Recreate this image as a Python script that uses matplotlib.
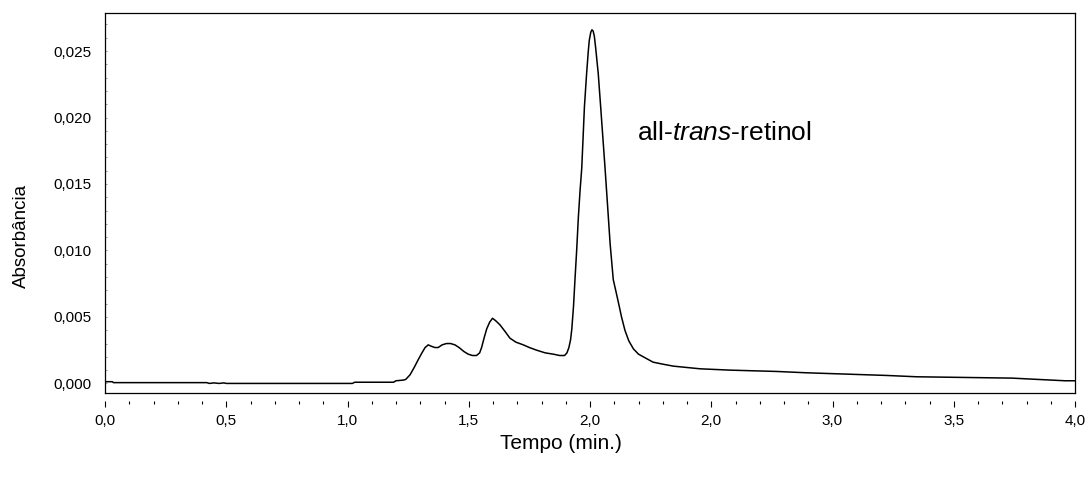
import matplotlib
matplotlib.use("Agg")
import matplotlib.pyplot as plt
from matplotlib.ticker import FixedLocator, MultipleLocator
import numpy as np

plt.rcParams['font.family'] = ['Liberation Sans', 'DejaVu Sans']
plt.rcParams['mathtext.fontset'] = 'custom'
plt.rcParams['mathtext.rm'] = 'Liberation Sans'
plt.rcParams['mathtext.it'] = 'Liberation Sans:italic'

# chromatogram trace (time in min, absorbance)
tempo = [0.00, 0.03, 0.035, 0.42, 0.43, 0.45, 0.47, 0.49, 0.50, 1.02, 1.03, 1.19,
         1.20, 1.23, 1.24, 1.258, 1.275, 1.292, 1.307, 1.320, 1.333, 1.345, 1.36,
         1.374, 1.39, 1.408, 1.425, 1.443, 1.46, 1.48, 1.498, 1.515, 1.532, 1.545,
         1.553, 1.563, 1.574, 1.586, 1.598, 1.612, 1.629, 1.650, 1.670, 1.695, 1.725,
         1.750, 1.780, 1.815, 1.849, 1.875, 1.895, 1.905, 1.913, 1.920, 1.925, 1.932,
         1.938, 1.945, 1.952, 1.959, 1.966, 1.972, 1.977, 1.986, 1.993, 1.997, 2.003,
         2.008, 2.013, 2.018, 2.023, 2.034, 2.044, 2.053, 2.062, 2.072, 2.083, 2.096,
         2.106, 2.117, 2.130, 2.144, 2.160, 2.179, 2.20, 2.23, 2.26, 2.30, 2.344,
         2.454, 2.577, 2.770, 2.893, 3.223, 3.347, 3.739, 3.848, 3.959, 4.0]
absorbancia = [0.00013, 0.00013, 0.00006, 0.00006, 0.0, 0.00004, 0.0, 0.00004, 0.0,
               0.0, 0.00009, 0.00009, 0.0002, 0.00025, 0.0003, 0.00065, 0.0012, 0.0018,
               0.0023, 0.0027, 0.0029, 0.0028, 0.0027, 0.0027, 0.0029, 0.0030, 0.0030,
               0.0029, 0.0027, 0.0024, 0.0022, 0.0021, 0.0021, 0.0023, 0.0027, 0.0034,
               0.0041, 0.0046, 0.0049, 0.0047, 0.0044, 0.0039, 0.0034, 0.0031, 0.0029,
               0.0027, 0.0025, 0.0023, 0.0022, 0.0021, 0.0021, 0.0023, 0.0027, 0.0033,
               0.0041, 0.0058, 0.0078, 0.0100, 0.0125, 0.0145, 0.0162, 0.0187, 0.0208,
               0.0233, 0.0250, 0.0258, 0.0264, 0.0266, 0.0265, 0.0261, 0.0253, 0.0233,
               0.0208, 0.0185, 0.0162, 0.0135, 0.0105, 0.0078, 0.0070, 0.0061, 0.0050,
               0.0040, 0.0032, 0.0026, 0.0022, 0.0019, 0.0016, 0.00145, 0.0013, 0.0011,
               0.0010, 0.0009, 0.0008, 0.0006, 0.0005, 0.0004, 0.0003, 0.0002, 0.0002]

x_ticks = [0.0, 0.5, 1.0, 1.5, 2.0, 2.5, 3.0, 3.5, 4.0]
x_tick_labels = ['0,0', '0,5', '1,0', '1,5', '2,0', '2,0', '3,0', '3,5', '4,0']
y_ticks = [0.0, 0.005, 0.010, 0.015, 0.020, 0.025]
y_tick_labels = ['0,000', '0,005', '0,010', '0,015', '0,020', '0,025']

fig = plt.figure(figsize=(10.88, 4.78), dpi=100)
ax = fig.add_axes([105 / 1088, (478 - 393) / 478, 970 / 1088, 380 / 478])

ax.plot(tempo, absorbancia, color='black', lw=1.1)

ax.set_xlim(0, 4.0)
ax.set_ylim(-0.00072, 0.02786)

# detached x ticks below the frame
ax.spines['bottom'].set_position(('outward', 6))
ax.spines['bottom'].set_visible(False)
ax.plot([0, 1], [0, 0], transform=ax.transAxes, color='black', lw=0.9, clip_on=False)
for s in ['top', 'left', 'right']:
    ax.spines[s].set_linewidth(0.9)

ax.xaxis.set_major_locator(FixedLocator(x_ticks))
ax.set_xticklabels(x_tick_labels)
ax.xaxis.set_minor_locator(MultipleLocator(0.1))
ax.tick_params(axis='x', which='major', direction='out', length=4.2, width=0.8,
               pad=5, labelsize=11)
ax.tick_params(axis='x', which='minor', direction='out', length=2.5, width=0.8)

ax.yaxis.set_major_locator(FixedLocator(y_ticks))
ax.set_yticklabels(y_tick_labels)
ax.yaxis.set_minor_locator(MultipleLocator(0.001))
ax.tick_params(axis='y', which='both', direction='in', length=1.5, width=0.6,
               color='#888888', pad=10, labelsize=11)

ax.set_xlabel('Tempo (min.)', fontsize=15, va='center')
ax.xaxis.set_label_coords(0.470, -0.1316)
ax.set_ylabel('Absorbância', fontsize=13.5, va='center')
ax.yaxis.set_label_coords(-0.0856, 0.413)

ax.text(2.194, 0.01883, 'all-$\\it{trans}$-retinol', fontsize=19, ha='left', va='center')

fig.savefig('out.png', dpi=100)
